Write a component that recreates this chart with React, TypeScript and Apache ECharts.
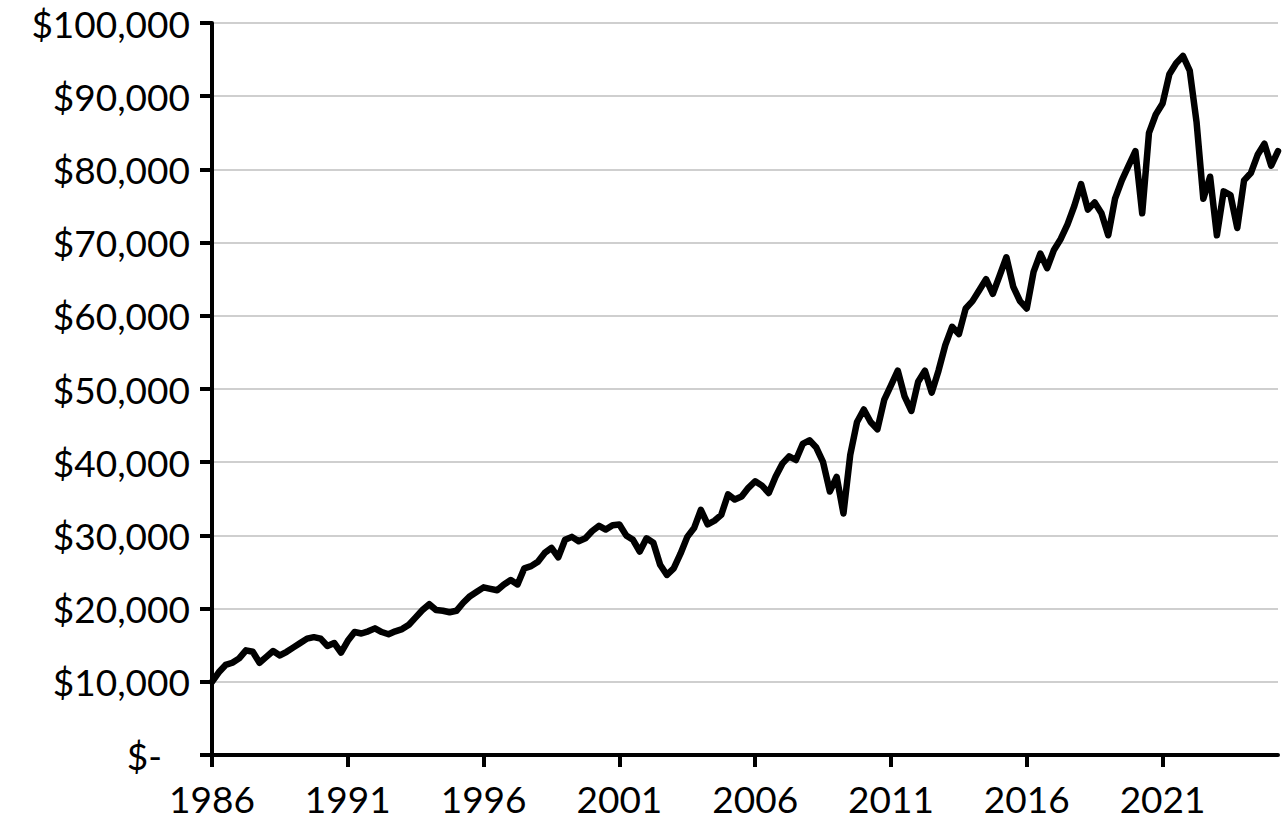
import React, { useEffect, useRef } from "react";
import * as echarts from "echarts";

// Quarterly portfolio values (USD), Q1..Q4 per year
const startYear = 1986;
const values1986to1995 = [
  10000, 11300, 12300, 12600,
  13200, 14300, 14100, 12600,
  13400, 14200, 13600, 14100,
  14700, 15300, 15900, 16100,
  15900, 14900, 15300, 14000,
  15600, 16800, 16600, 16900,
  17300, 16800, 16500, 16900,
  17200, 17800, 18800, 19800,
  20600, 19800, 19700, 19500,
  19700, 20800, 21700, 22300,
];
const values1996to2005 = [
  22900, 22700, 22500, 23300,
  23900, 23300, 25500, 25800,
  26400, 27600, 28300, 27000,
  29400, 29800, 29200, 29600,
  30600, 31300, 30800, 31400,
  31500, 30000, 29400, 27800,
  29600, 29000, 26000, 24600,
  25500, 27500, 29800, 31000,
  33500, 31500, 32000, 32800,
  35600, 34900, 35300, 36500,
];
const values2006to2015 = [
  37400, 36800, 35800, 38000,
  39800, 40800, 40300, 42500,
  43000, 42000, 40000, 36000,
  38000, 33000, 41000, 45500,
  47200, 45500, 44500, 48500,
  50500, 52500, 49000, 47000,
  51000, 52500, 49500, 52500,
  56000, 58500, 57500, 61000,
  62000, 63500, 65000, 63000,
  65500, 68000, 64000, 62000,
];
const values2016to2025 = [
  61000, 66000, 68500, 66500,
  69000, 70500, 72500, 75000,
  78000, 74500, 75500, 74000,
  71000, 76000, 78500, 80500,
  82500, 74000, 85000, 87500,
  89000, 93000, 94500, 95500,
  93500, 86500, 76000, 79000,
  71000, 77000, 76500, 72000,
  78500, 79500, 82000, 83500,
  80500, 82500,
];
const yTicks = [0, 10000, 20000, 30000, 40000, 50000, 60000, 70000, 80000, 90000, 100000];

const values = [...values1986to1995, ...values1996to2005, ...values2006to2015, ...values2016to2025];
const categories = values.map((_, i) => `${startYear + Math.floor(i / 4)} Q${(i % 4) + 1}`);

const FONT = "Lato";

export default function App() {
  const ref = useRef<HTMLDivElement>(null);
  useEffect(() => {
    if (!ref.current) return;
    const chart = echarts.init(ref.current, null, { renderer: "svg" });
    chart.setOption({
      animation: false,
      backgroundColor: "#ffffff",
      grid: { left: 212, right: 7, top: 23, bottom: 65, containLabel: false },
      xAxis: {
        type: "category",
        data: categories,
        boundaryGap: false,
        axisLine: { show: true, lineStyle: { color: "#000", width: 4 } },
        axisTick: {
          show: true,
          length: 12,
          interval: (i: number) => i % 20 === 0,
          lineStyle: { color: "#000", width: 4 },
        },
        axisLabel: {
          interval: (i: number) => i % 20 === 0,
          formatter: (v: string) => v.slice(0, 4),
          color: "#000",
          fontFamily: FONT,
          fontSize: 37,
          margin: 25,
        },
        splitLine: { show: false },
      },
      yAxis: {
        type: "value",
        min: yTicks[0],
        max: yTicks[yTicks.length - 1],
        interval: 10000,
        axisLine: { show: true, lineStyle: { color: "#000", width: 4 } },
        axisTick: { show: true, length: 12, lineStyle: { color: "#000", width: 4 } },
        axisLabel: {
          color: "#000",
          fontFamily: FONT,
          fontSize: 37,
          margin: 22,
          formatter: (v: number) =>
            v === 0 ? "{z|$-}" : "$" + v.toLocaleString("en-US"),
          rich: {
            z: { fontFamily: FONT, fontSize: 37, color: "#000", padding: [0, 28, 0, 0] },
          },
        },
        splitLine: { show: true, lineStyle: { color: "#bfbfbf", width: 1.5 } },
      },
      series: [
        {
          type: "line",
          data: values,
          symbol: "none",
          lineStyle: { color: "#000", width: 6.5, join: "round", cap: "round" },
          z: 3,
        },
      ],
    });
    return () => chart.dispose();
  }, []);
  return (
    <div
      ref={ref}
      style={{ position: "fixed", left: 0, top: 0, width: 1285, height: 820, background: "#fff" }}
    />
  );
}
